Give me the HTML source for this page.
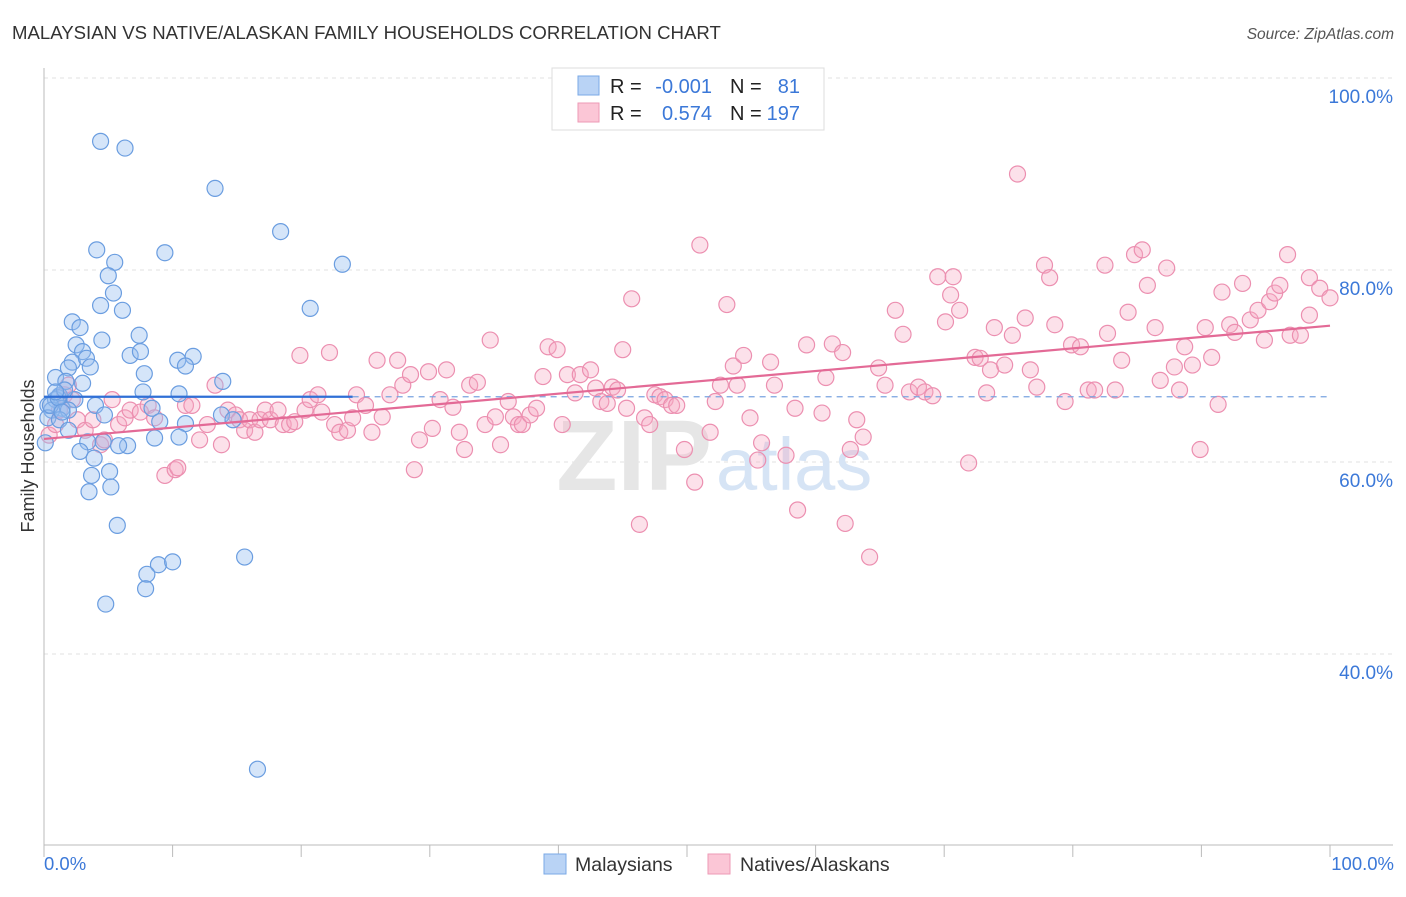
<!DOCTYPE html>
<html><head><meta charset="utf-8"><style>
body{margin:0;background:#fff;font-family:"Liberation Sans",sans-serif;}
svg text{font-family:"Liberation Sans",sans-serif;}
</style></head><body>
<svg id="chart" width="1406" height="892" xmlns="http://www.w3.org/2000/svg">
<text x="12" y="39" font-size="18.6" fill="#333">MALAYSIAN VS NATIVE/ALASKAN FAMILY HOUSEHOLDS CORRELATION CHART</text>
<text x="1394" y="39" font-size="15.5" fill="#555" text-anchor="end" font-style="italic">Source: ZipAtlas.com</text>
<g id="grid"></g>
<text x="712" y="490" font-size="100" fill="#e6e6e6" text-anchor="end" font-family="Liberation Serif" font-weight="bold">ZIP</text>
<text x="716" y="490" font-size="74" fill="#d6e4f5">atlas</text>
<g id="marks"></g>
<text x="34" y="456" font-size="18" fill="#333" text-anchor="middle" transform="rotate(-90 34 456)">Family Households</text>
<text x="44" y="870" font-size="18.5" fill="#3b78d8">0.0%</text>
<text x="1394" y="870" font-size="18.5" fill="#3b78d8" text-anchor="end">100.0%</text>
<g>
<rect x="552" y="68" width="272" height="62" fill="#fff" stroke="#ddd"/>
<rect x="578" y="76" width="21" height="19" fill="#b9d3f5" stroke="#7aa8e6"/>
<rect x="578" y="103" width="21" height="19" fill="#fbc6d6" stroke="#ee9ab6"/>
<text x="610" y="93" font-size="20" fill="#222">R =</text>
<text x="712" y="93" font-size="20" fill="#3b78d8" text-anchor="end">-0.001</text>
<text x="730" y="93" font-size="20" fill="#222">N =</text>
<text x="800" y="93" font-size="20" fill="#3b78d8" text-anchor="end">81</text>
<text x="610" y="120" font-size="20" fill="#222">R =</text>
<text x="712" y="120" font-size="20" fill="#3b78d8" text-anchor="end">0.574</text>
<text x="730" y="120" font-size="20" fill="#222">N =</text>
<text x="800" y="120" font-size="20" fill="#3b78d8" text-anchor="end">197</text>
</g>
<g>
<rect x="544" y="854" width="22" height="20" fill="#b9d3f5" stroke="#7aa8e6"/>
<text x="575" y="871" font-size="19.5" fill="#333">Malaysians</text>
<text x="740" y="871" font-size="19.5" fill="#333">Natives/Alaskans</text>
<rect x="708" y="854" width="22" height="20" fill="#fbc6d6" stroke="#ee9ab6"/>
</g>
</svg>
<script>
const yTicks=[40,60,80,100];
const yTickLabels=["40.0%","60.0%","80.0%","100.0%"];
const blueX=[4.4,6.3,13.3,18.4,4.1,9.4,5.5,23.2,5.0,5.4,4.4,6.1,20.7,2.2,2.8,7.4,4.5,2.5,3.0,6.7,7.5,10.4,11.6,2.2,3.3,1.9,3.6,11.0,7.8,0.9,3.0,13.9,1.7,10.5,7.7,1.2,2.4,0.3,0.9,1.4,0.6,4.0,1.9,4.7,8.4,13.8,14.7,9.0,11.0,0.3,1.2,1.9,8.6,10.5,3.4,4.6,6.5,5.8,2.8,3.9,5.1,3.7,5.2,3.5,5.7,15.6,8.9,10.0,8.0,7.9,4.8,16.6,0.1,0.5,1.1,1.6,0.9,1.4];
const blueY=[93.4,92.7,88.5,84.0,82.1,81.8,80.8,80.6,79.4,77.6,76.3,75.8,76.0,74.6,74.0,73.2,72.7,72.2,71.5,71.1,71.5,70.6,71.0,70.4,70.8,69.8,69.9,70.0,69.2,68.8,68.2,68.4,68.4,67.1,67.3,66.9,66.5,65.9,66.5,65.6,65.4,65.9,65.4,64.9,65.6,64.9,64.4,64.2,64.0,64.6,64.4,63.3,62.5,62.6,62.1,62.1,61.7,61.7,61.1,60.4,59.0,58.6,57.4,56.9,53.4,50.1,49.3,49.6,48.3,46.8,45.2,28.0,62.0,65.9,66.7,67.5,67.3,65.2];
const pinkX=[0.4,0.9,1.2,1.6,1.9,2.2,2.6,3.2,3.8,4.4,4.7,5.3,5.8,6.3,6.7,7.5,8.1,8.6,9.4,10.2,10.4,11.0,11.5,12.1,12.7,13.3,13.8,14.3,14.9,15.2,15.6,16.0,16.4,16.8,17.2,17.6,18.2,18.6,19.1,19.5,19.9,20.3,20.7,21.3,21.6,22.2,22.6,23.0,23.6,24.0,24.3,25.0,25.5,25.9,26.3,26.9,27.5,27.9,28.5,28.8,29.2,29.9,30.2,30.8,31.3,31.8,32.3,32.7,33.1,33.7,34.3,34.7,35.1,35.5,36.1,36.5,36.9,37.2,37.8,38.3,38.8,39.2,39.9,40.3,40.7,41.3,41.7,42.5,42.9,43.3,43.8,44.2,44.6,45.0,45.3,45.7,46.3,46.7,47.1,47.5,47.9,48.3,48.8,49.2,49.8,50.6,51.0,51.8,52.2,52.6,53.1,53.6,53.9,54.4,54.9,55.5,55.8,56.5,56.8,57.7,58.4,58.6,59.3,60.5,60.8,61.3,62.1,62.3,62.7,63.2,63.7,64.2,64.9,65.4,66.2,66.8,67.3,68.0,68.5,69.1,69.5,70.1,70.5,70.7,71.2,71.9,72.4,72.8,73.3,73.6,73.9,74.7,75.3,75.7,76.3,76.7,77.2,77.8,78.2,78.6,79.4,79.9,80.6,81.2,81.7,82.5,82.7,83.3,83.8,84.3,84.8,85.4,85.8,86.4,86.8,87.3,87.9,88.3,88.7,89.3,89.9,90.3,90.8,91.3,91.6,92.2,92.6,93.2,93.8,94.4,94.9,95.3,95.7,96.1,96.7,96.9,97.7,98.4,99.2,100,98.4];
const pinkY=[62.8,63.9,65.4,67.0,68.0,66.5,64.4,63.3,64.4,61.8,62.3,66.5,63.9,64.6,65.4,65.2,65.9,64.6,58.6,59.2,59.4,65.9,65.9,62.3,63.9,68.0,61.8,65.4,64.9,64.4,63.3,64.4,63.1,64.4,65.4,64.4,65.4,63.9,63.9,64.2,71.1,65.4,66.5,67.0,65.2,71.4,63.9,63.1,63.3,64.6,67.0,65.9,63.1,70.6,64.7,67.0,70.6,68.0,69.1,59.2,62.3,69.4,63.5,66.5,69.6,65.7,63.1,61.3,68.0,68.3,63.9,72.7,64.7,61.8,66.3,64.7,63.9,63.9,64.9,65.6,68.9,72.0,71.7,63.9,69.1,67.2,69.1,69.6,67.7,66.3,66.1,67.8,67.5,71.7,65.6,77.0,53.5,64.6,63.9,67.0,66.8,66.5,65.9,65.9,61.3,57.9,82.6,63.1,66.3,68.0,76.4,70.0,68.0,71.1,64.6,60.2,62.0,70.4,68.0,60.7,65.6,55.0,72.2,65.1,68.8,72.3,71.4,53.6,61.3,64.4,62.6,50.1,69.8,68.0,75.8,73.3,67.3,67.8,67.3,66.9,79.3,74.6,77.4,79.3,75.8,59.9,70.9,70.8,67.2,69.6,74.0,70.1,73.2,90.0,75.0,69.6,67.8,80.5,79.2,74.3,66.3,72.2,72.0,67.5,67.5,80.5,73.4,67.5,70.6,75.6,81.6,82.1,78.4,74.0,68.5,80.2,69.9,67.5,72.0,70.1,61.3,74.0,70.9,66.0,77.7,74.3,73.5,78.6,74.8,75.8,72.7,76.7,77.6,78.4,81.6,73.2,73.2,79.2,78.1,77.1,75.3];
const blueTrend=[66.8,66.8];
const pinkTrend=[62.4,74.2];

const NS="http://www.w3.org/2000/svg";
const X0=44,X1=1330,Y0=1038,PXY=9.6;
function sx(v){return X0+(X1-X0)*v/100;}
function sy(v){return Y0-v*PXY;}
function mk(tag,attrs,parent){const e=document.createElementNS(NS,tag);for(const k in attrs)e.setAttribute(k,attrs[k]);parent.appendChild(e);return e;}
const grid=document.getElementById('grid');
const marks=document.getElementById('marks');
let l=mk('line',{x1:44,y1:sy(100),x2:1393,y2:sy(100),stroke:'#ddd','stroke-dasharray':'4,4'},grid);


yTicks.forEach((t,i)=>{
  const g=mk('line',{x1:44,y1:sy(t),x2:1393,y2:sy(t),stroke:'#e2e2e2','stroke-dasharray':'4,4'},grid);
  
  
  const tx=mk('text',{x:1393,y:sy(t)+25,'font-size':19,fill:'#3b78d8','text-anchor':'end'},grid);
  tx.textContent=yTickLabels[i];
  
  
});
let ax=mk('line',{x1:44,y1:68,x2:44,y2:845,stroke:'#bbb'},grid);


let bx=mk('line',{x1:44,y1:845,x2:1393,y2:845,stroke:'#bbb'},grid);


for(let i=0;i<=10;i++){
  const t=mk('line',{x1:sx(i*10),y1:845,x2:sx(i*10),y2:857,stroke:'#bbb'},grid);
  
  
}
pinkX.forEach((v,i)=>{
  const c=mk('circle',{cx:sx(v),cy:sy(pinkY[i]),r:8,fill:'rgba(245,170,195,0.35)',stroke:'#ec8fb0','stroke-width':1.2},marks);
  
  
});
blueX.forEach((v,i)=>{
  const c=mk('circle',{cx:sx(v),cy:sy(blueY[i]),r:8,fill:'rgba(150,190,240,0.4)',stroke:'#6a9de0','stroke-width':1.2},marks);
  
  
});
const bd=mk('line',{x1:sx(24),y1:sy(blueTrend[0]+(blueTrend[1]-blueTrend[0])*0.24),x2:sx(100),y2:sy(blueTrend[1]),stroke:'#7aa4e0','stroke-width':1.2,'stroke-dasharray':'6,5'},marks);


const bl=mk('line',{x1:sx(0),y1:sy(blueTrend[0]),x2:sx(24),y2:sy(blueTrend[0]+(blueTrend[1]-blueTrend[0])*0.24),stroke:'#2f6fd6','stroke-width':2.2},marks);


const pl=mk('line',{x1:sx(0),y1:sy(pinkTrend[0]),x2:sx(100),y2:sy(pinkTrend[1]),stroke:'#e36a96','stroke-width':2.2},marks);


</script>
</body></html>
